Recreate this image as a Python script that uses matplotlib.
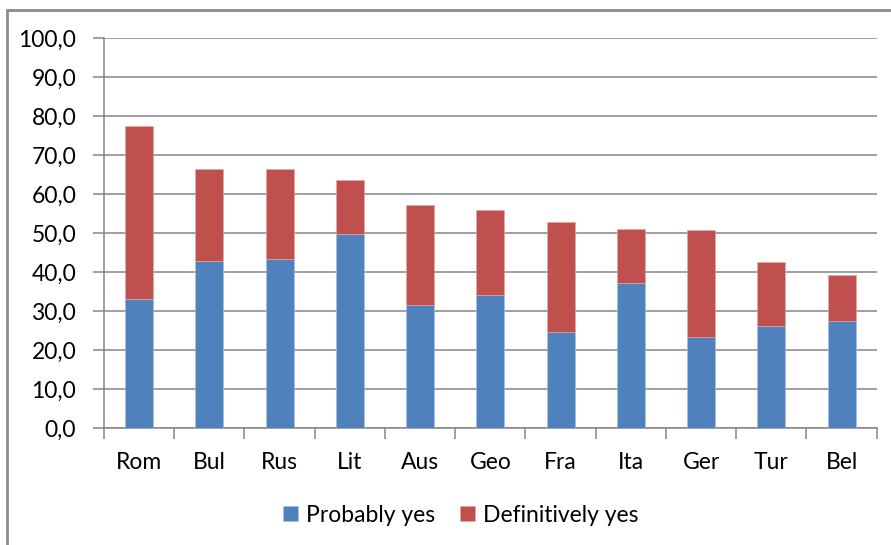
import numpy as np
import matplotlib
matplotlib.use("Agg")
import matplotlib.pyplot as plt
from matplotlib.patches import Rectangle

countries = ["Rom", "Bul", "Rus", "Lit", "Aus", "Geo", "Fra", "Ita", "Ger", "Tur", "Bel"]
probably = [33.1, 43.0, 43.3, 49.8, 31.6, 34.1, 24.8, 37.2, 23.5, 26.3, 27.5]
totals = [77.6, 66.4, 66.4, 63.7, 57.2, 55.9, 52.9, 51.0, 50.8, 42.7, 39.2]
definitively = [t - p for t, p in zip(totals, probably)]
yticks = np.arange(0, 101, 10)

BLUE = "#4F81BD"
RED = "#C0504D"
GRID = "#868686"
plt.rcParams["font.family"] = ["Lato", "DejaVu Sans"]

W, H = 891, 545
fig = plt.figure(figsize=(W / 100, H / 100), dpi=100, facecolor="white")
ax = fig.add_axes([104 / W, 1 - 428.3 / H, (876.7 - 104) / W, (428.3 - 38.3) / H])

# outer chart frame (cut off at right and bottom like the original)
fig.patches.append(Rectangle((7.3 / W, -0.05), 1.2, 1 - 10 / H + 0.05,
                             transform=fig.transFigure, fill=False,
                             edgecolor="#8c8c8c", linewidth=2))

x = np.arange(len(countries))
ax.bar(x, probably, width=0.4, color=BLUE, edgecolor="#a9c0de", linewidth=0.4,
       label="Probably yes", zorder=3)
ax.bar(x, definitively, bottom=probably, width=0.4, color=RED, edgecolor="#e6a9a8",
       linewidth=0.4, label="Definitively yes", zorder=3)

ax.set_xlim(-0.5, len(countries) - 0.5)
ax.set_ylim(0, 100)
ax.set_yticks(yticks)
ax.set_yticklabels([f"{v:.1f}".replace(".", ",") for v in yticks], fontsize=16.5)
ax.yaxis.grid(True, color=GRID, linewidth=1.1, zorder=0)
ax.set_axisbelow(True)

# category labels centred, tick marks on category boundaries
ax.set_xticks(x)
ax.set_xticklabels(countries, fontsize=16.5)
ax.tick_params(axis="x", which="major", length=0, pad=17)
ax.set_xticks(np.arange(-0.5, len(countries)), minor=True)
ax.tick_params(axis="x", which="minor", length=8, color=GRID, width=1.1)
ax.tick_params(axis="y", length=8, color=GRID, width=1.1, pad=12)

for side in ["top", "right"]:
    ax.spines[side].set_visible(False)
for side in ["left", "bottom"]:
    ax.spines[side].set_color(GRID)
    ax.spines[side].set_linewidth(1.1)

fig.legend(loc="center", bbox_to_anchor=(461 / W, 1 - 515 / H), ncol=2,
           frameon=False, fontsize=16.5, handlelength=0.65, handleheight=0.65,
           handletextpad=0.35, columnspacing=1.1)

fig.savefig("out.png", dpi=100, facecolor="white")
